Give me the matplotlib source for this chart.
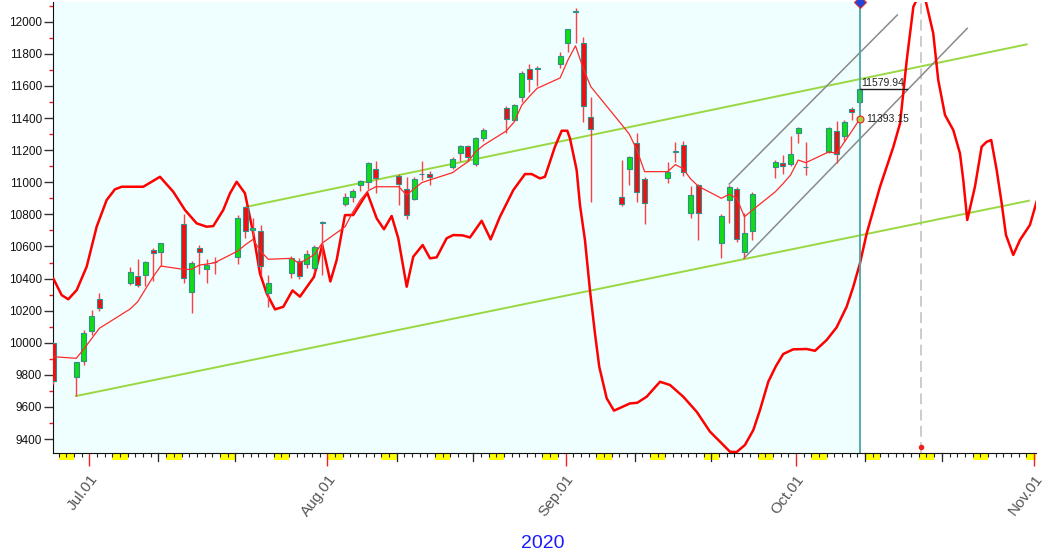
import numpy as np
import pandas as pd
import matplotlib
matplotlib.use("Agg")
import matplotlib.pyplot as plt
import matplotlib.dates as mdates
from matplotlib.patches import Rectangle

plt.rcParams["font.family"] = ["Liberation Sans", "DejaVu Sans"]

# ---------------------------------------------------------------------------
# Datos
# ---------------------------------------------------------------------------
dates = [
    "2020-06-26", "2020-06-29", "2020-06-30",
    "2020-07-01", "2020-07-02", "2020-07-06", "2020-07-07", "2020-07-08",
    "2020-07-09", "2020-07-10", "2020-07-13", "2020-07-14", "2020-07-15",
    "2020-07-16", "2020-07-17", "2020-07-20", "2020-07-21", "2020-07-22",
    "2020-07-23", "2020-07-24", "2020-07-27", "2020-07-28", "2020-07-29",
    "2020-07-30", "2020-07-31",
    "2020-08-03", "2020-08-04", "2020-08-05", "2020-08-06", "2020-08-07",
    "2020-08-10", "2020-08-11", "2020-08-12", "2020-08-13", "2020-08-14",
    "2020-08-17", "2020-08-18", "2020-08-19", "2020-08-20", "2020-08-21",
    "2020-08-24", "2020-08-25", "2020-08-26", "2020-08-27", "2020-08-28",
    "2020-08-31",
    "2020-09-01", "2020-09-02", "2020-09-03", "2020-09-04", "2020-09-08",
    "2020-09-09", "2020-09-10", "2020-09-11", "2020-09-14", "2020-09-15",
    "2020-09-16", "2020-09-17", "2020-09-18", "2020-09-21", "2020-09-22",
    "2020-09-23", "2020-09-24", "2020-09-25", "2020-09-28", "2020-09-29",
    "2020-09-30",
    "2020-10-01", "2020-10-02", "2020-10-05", "2020-10-06", "2020-10-07",
    "2020-10-08", "2020-10-09",
]
opens = [
    10000, 9785, 9885,
    10072, 10274, 10375, 10417, 10425, 10578, 10564, 10740, 10319, 10588,
    10458, 10502, 10537, 10844, 10700, 10695, 10309, 10433, 10510, 10489,
    10464, 10745,
    10863, 10910, 10983, 11002, 11081, 11041, 10956, 10894, 11050, 11052,
    11097, 11181, 11226, 11112, 11274, 11461, 11388, 11533, 11704, 11708,
    11736,
    11869, 12062, 11869, 11405, 10911, 11082, 11243, 11019, 11029, 11188,
    11233, 10807, 10983, 10624, 10889, 10959, 10564, 10695, 11097, 11118,
    11112,
    11308, 11098, 11186, 11319, 11288, 11454, 11502,
]
highs = [
    10005, 9880, 10080,
    10205, 10309, 10469, 10522, 10510, 10590, 10624, 10802, 10510, 10612,
    10520, 10535, 10795, 10850, 10775, 10734, 10421, 10540, 10530, 10575,
    10610, 10758,
    10932, 10955, 11015, 11125, 11130, 11050, 11030, 11030, 11133, 11073,
    11155, 11235, 11235, 11285, 11335, 11475, 11490, 11690, 11737, 11722,
    11812,
    11955, 12083, 11907, 11533, 11139, 11165, 11305, 11030, 11128, 11253,
    11254, 10975, 10990, 10800, 10980, 10970, 10808, 10940, 11140, 11170,
    11286,
    11345, 11253, 11345, 11381, 11385, 11470, 11595,
]
lows = [
    9745, 9668, 9860,
    10050, 10195, 10360, 10348, 10353, 10387, 10481, 10375, 10188, 10429,
    10373, 10429, 10491, 10652, 10667, 10424, 10225, 10406, 10400, 10467,
    10440, 10420,
    10850, 10880, 10943, 10960, 10932, 10859, 10771, 10890, 11014, 10980,
    11085, 11131, 11131, 11100, 11255, 11305, 11380, 11500, 11564, 11600,
    11710,
    11813, 11865, 11378, 10879, 10850, 10983, 10879, 10740, 10993, 11129,
    11037, 10780, 10641, 10526, 10744, 10630, 10526, 10641, 11025, 11050,
    11100,
    11247, 11045, 11180, 11120, 11260, 11390, 11490,
]
closes = [
    9760, 9878, 10062,
    10167, 10219, 10443, 10358, 10502, 10562, 10624, 10403, 10496, 10564,
    10486, 10504, 10778, 10695, 10712, 10476, 10372, 10527, 10416, 10551,
    10599, 10750,
    10910, 10948, 11008, 11118, 11029, 10987, 10796, 11020, 11052, 11035,
    11144, 11223, 11160, 11274, 11326, 11392, 11480, 11679, 11641, 11712,
    11786,
    11953, 12069, 11475, 11330, 10865, 11155, 10937, 10868, 11066, 11192,
    11062, 10922, 10811, 10788, 10972, 10648, 10682, 10925, 11129, 11101,
    11175,
    11335, 11096, 11340, 11174, 11377, 11437, 11579.94,
]
ma = [
    9913, 9903, 9962,
    10026, 10090, 10210, 10256, 10334, 10411, 10478, 10457, 10457, 10484,
    10490, 10498, 10571, 10610, 10644, 10570, 10520, 10526, 10495, 10520,
    10550, 10620,
    10723, 10814, 10890, 10947, 10972, 10972, 10920, 10960, 10998, 11014,
    11060, 11095, 11128, 11190, 11230, 11320, 11375, 11480, 11535, 11585,
    11650,
    11760, 11850, 11710, 11595, 11360, 11300, 11200, 11066, 11066, 11110,
    11085, 11020, 10975, 10900, 10925, 10900, 10785, 10825, 10940, 10990,
    11045,
    11138, 11122, 11190, 11180, 11250, 11320, 11393.15,
]

# curva de ciclo (días desde el 1 de julio, valor)
cycle_day = [
    -4.70, -3.61, -2.75, -1.65, -0.35, 0.95, 2.25, 3.33, 4.21, 7.02, 8.11,
    9.19, 10.92, 12.45, 13.97, 15.27, 16.13, 17.43, 18.31, 19.18, 20.26,
    21.34, 22.21, 23.09, 24.17, 25.25, 26.45, 27.42, 29.24, 30.33, 31.38,
    32.20, 33.28, 34.36, 36.18, 37.41, 38.36, 39.36, 40.22, 41.32, 42.17,
    43.40, 44.35, 45.22, 46.52, 47.38, 48.61, 49.56, 51.08, 52.25, 53.46,
    55.20, 56.72, 57.59, 58.67, 59.32, 60.62, 61.50, 62.23, 62.58, 63.45,
    63.88, 64.53, 65.18, 65.83, 66.39, 67.36, 68.31, 70.39, 71.34, 72.57,
    74.30, 75.60, 77.33, 79.08, 80.81, 82.11, 83.41, 84.28, 85.36, 86.45,
    87.32, 88.40, 89.40, 90.35, 91.65, 93.40, 94.48, 96.00, 97.30, 98.60,
    99.47, 100.34, 101.22, 102.95, 104.69, 105.56, 106.43, 107.29, 108.15,
    108.80, 109.88, 110.53, 111.41, 112.49, 113.36, 113.79, 114.31, 115.31,
    116.18, 116.83, 117.43, 118.14, 118.79, 119.35, 120.30, 121.17, 122.47,
    123.34,
]
cycle_val = [
    10401, 10297, 10271, 10328, 10474, 10723, 10889, 10956, 10972, 10972,
    11003, 11034, 10941, 10827, 10744, 10723, 10727, 10827, 10931, 11003,
    10931, 10682, 10432, 10308, 10208, 10224, 10326, 10287, 10410, 10609,
    10382, 10515, 10795, 10796, 10935, 10775, 10707, 10790, 10651, 10349,
    10536, 10609, 10526, 10532, 10651, 10671, 10669, 10656, 10760, 10644,
    10785, 10951, 11051, 11051, 11024, 11034, 11221, 11321, 11321, 11273,
    11076, 10858, 10640, 10328, 10059, 9851, 9654, 9577, 9622, 9626, 9664,
    9757, 9737, 9664, 9570, 9446, 9384, 9321, 9319, 9363, 9456, 9581, 9757,
    9855, 9930, 9959, 9961, 9950, 10017, 10096, 10224, 10349, 10495, 10682,
    10972, 11221, 11367, 11761, 12093, 12180, 12150, 11928, 11637, 11419,
    11325, 11180, 11014, 10765, 10972, 11221, 11252, 11263, 11076, 10869,
    10671, 10547, 10640, 10734, 10879,
]

# líneas de tendencia (día, valor)
green_up_day, green_up_val = [20.64, 122.05], [10849, 11859]
green_lo_day, green_lo_val = [-1.74, 122.34], [9668, 10885]
gray_up_day, gray_up_val = [83.32, 105.20], [10989, 12042]
gray_lo_day, gray_lo_val = [85.23, 114.31], [10526, 11959]

last_close = 11579.94
last_ma = 11393.15
projection_day = 108.3

# ---------------------------------------------------------------------------
# Figura
# ---------------------------------------------------------------------------
W, H = 1062, 553
fig = plt.figure(figsize=(W / 100, H / 100), dpi=100)
fig.patch.set_facecolor("white")
ax = fig.add_axes([52.5 / W, 1 - 452.7 / H, (1036 - 52.5) / W, (452.7 - 2) / H])

base = mdates.date2num(pd.Timestamp("2020-07-01"))
x0, x1 = base - 4.80, base + 123.26
ax.set_xlim(x0, x1)
ax.set_ylim(9315, 12123)
ax.set_facecolor("white")

xs = np.array([mdates.date2num(pd.Timestamp(d)) for d in dates]) + 0.3
x_last = xs[-1]

# fondo celeste hasta la última vela
ax.axvspan(x0, x_last, color="#effefe", zorder=0, lw=0)

# curva roja gruesa
ax.plot(base + np.array(cycle_day), cycle_val, color="#ff0000", lw=1.8,
        zorder=3, solid_joinstyle="round")

# líneas de tendencia
ax.plot(base + np.array(green_up_day), green_up_val, color="#9ad842", lw=1.4, zorder=2)
ax.plot(base + np.array(green_lo_day), green_lo_val, color="#9ad842", lw=1.4, zorder=2)
ax.plot(base + np.array(gray_up_day), gray_up_val, color="#8a8a8a", lw=1.1, zorder=2)
ax.plot(base + np.array(gray_lo_day), gray_lo_val, color="#8a8a8a", lw=1.1, zorder=2)

# velas
bw = 0.65
for x, o, h, l, c in zip(xs, opens, highs, lows, closes):
    ax.vlines(x, l, h, color="#ff4040", lw=1.0, zorder=4)
    col = "#11dd11" if c >= o else "#ee1111"
    lo, hi = min(o, c), max(o, c)
    ax.add_patch(Rectangle((x - bw / 2, lo), bw, hi - lo, facecolor=col,
                           edgecolor="#2f8f8f", lw=0.8, zorder=5))

# media móvil
ax.plot(xs, ma, color="#ff2a2a", lw=0.9, zorder=6)

# línea vertical de la última vela y proyección
ax.axvline(x_last, color="#4aa6a6", lw=1.3, zorder=7)
ax.axvline(base + projection_day, color="#c8c8c8", lw=1.3, ls=(0, (6, 3)), zorder=1)
ax.plot([base + projection_day], [9350], "o", color="#ee2222", ms=3, zorder=7)
ax.plot([x_last], [12123], "D", ms=6, color="#2244dd", mec="#dd3333",
        mew=0.8, clip_on=False, zorder=8)

# etiquetas de valores
ax.plot([x_last, x_last + 6.1], [last_close, last_close], color="#222222", lw=1, zorder=7)
ax.text(x_last + 0.2, last_close + 8, f"{last_close:.2f}", fontsize=7.5,
        color="#222222", ha="left", va="bottom", zorder=8)
ax.plot([x_last], [last_ma], "o", ms=5, mfc="#a8d040", mec="#ee2222", mew=0.8, zorder=8)
ax.text(x_last + 0.8, last_ma, f"{last_ma:.2f}", fontsize=7.5,
        color="#222222", ha="left", va="center", zorder=8)

# ---------------------------------------------------------------------------
# Ejes
# ---------------------------------------------------------------------------
for s in ["top", "right"]:
    ax.spines[s].set_visible(False)
ax.spines["left"].set_color("#111111")
ax.spines["bottom"].set_color("#111111")

ax.set_yticks(np.arange(9400, 12001, 200))
ax.set_yticks(np.arange(9500, 12101, 200), minor=True)
ax.tick_params(axis="y", which="major", length=6.5, width=1, color="#333333",
               labelsize=8.5, labelcolor="#111111", pad=1)
ax.tick_params(axis="y", which="minor", length=3, width=1, color="#ee2222")

month_starts = pd.date_range("2020-07-01", "2020-11-01", freq="MS")
ax.set_xticks(mdates.date2num(month_starts))
ax.set_xticklabels([d.strftime("%b.%d") for d in month_starts])
days = pd.date_range("2020-06-27", "2020-11-01", freq="D")
ax.set_xticks(mdates.date2num(days), minor=True)
ax.tick_params(axis="x", which="major", length=9, width=1, color="#ee2222",
               labelsize=11, labelcolor="#555555", pad=5, labelrotation=53)
ax.tick_params(axis="x", which="minor", length=3, width=0.8, color="#222222")
for lab in ax.get_xticklabels():
    lab.set_ha("right")
    lab.set_va("top")
    lab.set_rotation_mode("anchor")

# marcas largas los días 10 y 20
xt = ax.get_xaxis_transform()
for d in days:
    if d.day in (10, 20):
        ax.plot([mdates.date2num(d)] * 2, [0, -0.018], color="#222222", lw=0.9,
                transform=xt, clip_on=False, zorder=9)

# fines de semana en amarillo
for d in days:
    if d.weekday() == 5:
        xa = mdates.date2num(d)
        w = min(2, x1 - xa)
        ax.add_patch(Rectangle((xa, -0.016), w, 0.016, transform=xt,
                               facecolor="#ffff00", lw=0, clip_on=False, zorder=1))

fig.text(543 / W, 1 - 543 / H, "2020", color="#1a1aff", fontsize=14,
         ha="center", va="center")

fig.savefig("out.png", dpi=100, facecolor="white")
